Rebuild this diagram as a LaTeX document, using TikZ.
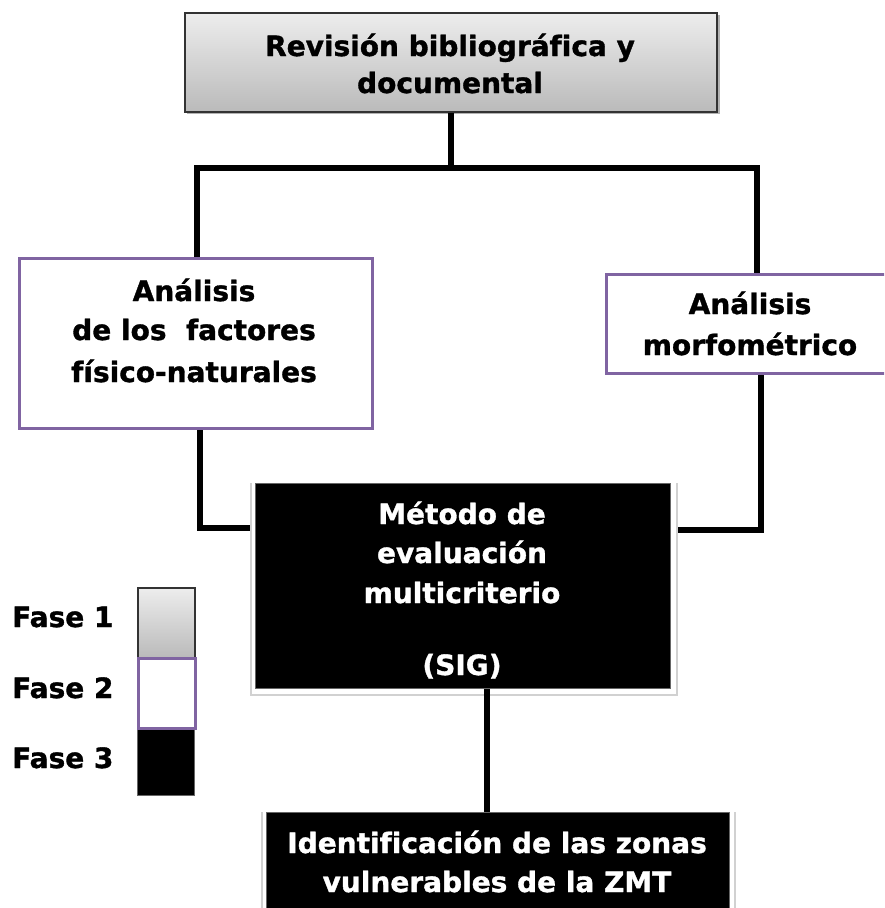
\documentclass[tikz,border=0pt]{standalone}
\usepackage{fontspec}
\setmainfont{DejaVu Sans}[Ligatures=NoCommon, BoldFeatures={FakeBold=1.2}]
\definecolor{fpurple}{HTML}{8064A2}
\begin{document}
\begin{tikzpicture}[x=1pt,y=-1pt,
  graybox/.style={draw=black!80, line width=1.5pt, top color=black!7, bottom color=black!27, inner sep=0pt},
  purplebox/.style={draw=fpurple, line width=3pt, fill=white, inner sep=0pt},
  blackbox/.style={fill=black, draw=black!60, line width=1pt, inner sep=0pt},
  frame/.style={draw=black!18, line width=1.5pt},
  lbl/.style={font=\bfseries\fontsize{28}{38}\selectfont, inner sep=0pt, anchor=base},
  wlbl/.style={lbl, text=white},
  conn/.style={line width=5.5pt}]
\useasboundingbox (0,0) rectangle (884,908);
\fill[white] (0,0) rectangle (884,908);
\clip (0,0) rectangle (884,908);

% connector corners
\coordinate (hl) at (197,168);
\coordinate (hr) at (757,168);
\coordinate (ll) at (200,528);
\coordinate (lr) at (761,530);
\coordinate (mb) at (487,688);

% boxes
\draw[black!30, line width=2pt] (187,113) -- (719,113) -- (719,15);
\node[graybox, minimum width=532pt, minimum height=99pt, anchor=north west] (rev) at (184,12) {};
\node[purplebox, minimum width=353pt, minimum height=170pt, anchor=north west] (lft) at (18,257) {};
\node[purplebox, minimum width=292pt, minimum height=99pt, anchor=north west] (rgt) at (605,273) {};

\draw[conn] (rev.south) -- (rev.south |- hl);
\draw[conn] (lft.north -| hl) -- (hl) -- (hr) -- (rgt.north -| hr);
\draw[conn] (lft.south -| ll) -- (ll) -- (ll -| 255,0);
\draw[conn] (rgt.south -| lr) -- (lr) -- (lr -| 670,0);

\draw[frame, fill=white] (251,483) -- (251,695) -- (677,695) -- (677,483);
\node[blackbox, minimum width=415pt, minimum height=205pt, anchor=north west] (mcm) at (255,483) {};
\draw[frame, fill=white] (262,812) -- (262,910) -- (735,910) -- (735,812);
\node[blackbox, minimum width=463pt, minimum height=100pt, anchor=north west] (idz) at (266,812) {};
\draw[conn] (mcm.south -| mb) -- (idz.north -| mb);

% texts
\node[lbl] (rev1) at (450,56) {Revisión bibliográfica y};
\node[lbl] (rev2) at (450,93) {documental};
\node[lbl] (lft1) at (194,301) {Análisis};
\node[lbl] (lft2) at (194,340) {de los\ \ factores};
\node[lbl] (lft3) at (194,382) {físico-naturales};
\node[lbl] (rgt1) at (750,314) {Análisis};
\node[lbl] (rgt2) at (750,355) {morfométrico};
\node[wlbl] (mcm1) at (462,524) {Método de};
\node[wlbl] (mcm2) at (462,563) {evaluación};
\node[wlbl] (mcm3) at (462,603) {multicriterio};
\node[wlbl] (mcm4) at (462,675) {(SIG)};
\node[wlbl] (idz1) at (497,853) {Identificación de las zonas};
\node[wlbl] (idz2) at (497,892) {vulnerables de la ZMT};

% legend
\node[graybox, minimum width=57pt, minimum height=70pt, anchor=north west] (f1box) at (137,587) {};
\node[blackbox, minimum width=57pt, minimum height=68pt, anchor=north west] (f3box) at (137,727) {};
\node[purplebox, minimum width=57pt, minimum height=70pt, anchor=north west] (f2box) at (137,657) {};
\node[lbl, anchor=base west] (f1) at (12,627) {Fase 1};
\node[lbl, anchor=base west] (f2) at (12,698) {Fase 2};
\node[lbl, anchor=base west] (f3) at (12,768) {Fase 3};
\end{tikzpicture}
\end{document}
